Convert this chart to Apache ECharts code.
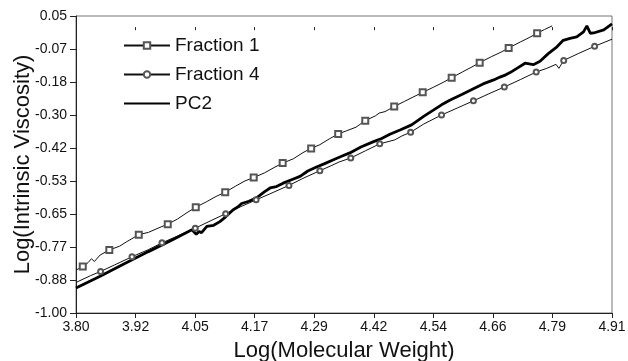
<!DOCTYPE html>
<html><head><meta charset="utf-8">
<script src="https://cdn.jsdelivr.net/npm/echarts@6/dist/echarts.min.js"></script>
<style>html,body{margin:0;padding:0;background:#fff}#c{width:628px;height:361px}</style>
</head><body><div id="c"></div>
<script>
// ---- data ----
const xTickLabels = ['3.80','3.92','4.05','4.17','4.29','4.42','4.54','4.66','4.79','4.91'];
const yTickLabels = ['-1.00','-0.88','-0.77','-0.65','-0.53','-0.42','-0.30','-0.18','-0.07','0.05'];
const xMin = 3.80, xMax = 4.91, yMin = -1.00, yMax = 0.05;

const f1X = [3.800,3.814,3.825,3.832,3.838,3.850,3.869,3.890,3.905,3.930,3.950,3.970,3.990,4.010,4.030,4.048,4.070,4.090,4.109,4.130,4.150,4.168,4.190,4.210,4.228,4.250,4.270,4.287,4.305,4.325,4.343,4.360,4.380,4.399,4.420,4.428,4.440,4.459,4.480,4.500,4.518,4.540,4.560,4.578,4.600,4.620,4.636,4.660,4.680,4.696,4.720,4.740,4.755,4.770,4.786];
const f1Y = [-0.848,-0.836,-0.822,-0.808,-0.818,-0.795,-0.777,-0.764,-0.748,-0.723,-0.715,-0.700,-0.686,-0.668,-0.645,-0.626,-0.607,-0.588,-0.573,-0.552,-0.533,-0.521,-0.505,-0.486,-0.470,-0.455,-0.433,-0.418,-0.405,-0.384,-0.367,-0.356,-0.343,-0.320,-0.303,-0.293,-0.288,-0.270,-0.252,-0.235,-0.220,-0.202,-0.185,-0.168,-0.148,-0.130,-0.115,-0.094,-0.078,-0.063,-0.042,-0.025,-0.011,0.002,0.015];
const f1MarkerX = [3.814,3.869,3.930,3.990,4.048,4.109,4.168,4.228,4.287,4.343,4.399,4.459,4.518,4.578,4.636,4.696,4.755];

const f4X = [3.800,3.830,3.851,3.880,3.916,3.950,3.978,4.010,4.047,4.080,4.110,4.140,4.173,4.200,4.241,4.270,4.305,4.330,4.345,4.369,4.400,4.429,4.460,4.475,4.493,4.520,4.557,4.590,4.623,4.655,4.687,4.720,4.753,4.775,4.794,4.800,4.810,4.840,4.874,4.910];
const f4Y = [-0.892,-0.868,-0.853,-0.830,-0.801,-0.776,-0.752,-0.728,-0.700,-0.673,-0.649,-0.625,-0.600,-0.580,-0.549,-0.524,-0.497,-0.478,-0.466,-0.452,-0.426,-0.402,-0.388,-0.374,-0.361,-0.332,-0.300,-0.275,-0.250,-0.225,-0.201,-0.175,-0.148,-0.135,-0.121,-0.135,-0.107,-0.083,-0.057,-0.032];
const f4MarkerX = [3.851,3.916,3.978,4.047,4.110,4.173,4.241,4.305,4.369,4.429,4.493,4.557,4.623,4.687,4.753,4.810,4.874];

const pcX = [3.800,3.850,3.900,3.950,4.000,4.040,4.049,4.055,4.060,4.071,4.085,4.098,4.110,4.125,4.135,4.143,4.158,4.174,4.190,4.202,4.215,4.229,4.245,4.264,4.280,4.298,4.315,4.332,4.350,4.367,4.390,4.415,4.433,4.450,4.471,4.495,4.520,4.540,4.557,4.574,4.600,4.623,4.643,4.665,4.678,4.690,4.699,4.713,4.730,4.747,4.761,4.778,4.796,4.809,4.823,4.837,4.851,4.858,4.865,4.872,4.893,4.910];
const pcY = [-0.912,-0.870,-0.826,-0.783,-0.741,-0.706,-0.722,-0.712,-0.716,-0.694,-0.690,-0.677,-0.660,-0.636,-0.625,-0.613,-0.605,-0.593,-0.572,-0.558,-0.553,-0.541,-0.530,-0.517,-0.498,-0.484,-0.472,-0.459,-0.446,-0.434,-0.413,-0.395,-0.383,-0.368,-0.353,-0.335,-0.305,-0.283,-0.264,-0.248,-0.227,-0.207,-0.190,-0.176,-0.166,-0.158,-0.150,-0.135,-0.117,-0.122,-0.110,-0.083,-0.059,-0.036,-0.029,-0.024,-0.006,0.015,-0.011,-0.010,0.001,0.022];

// ---- build ----
function build(xs, ys, markers) {
  return xs.map((x, i) => {
    const isM = markers && markers.some(m => Math.abs(m - x) < 1e-9);
    return isM ? { value: [x, ys[i]] } : { value: [x, ys[i]], symbol: 'none' };
  });
}
const font = 'Liberation Sans, Arial, Helvetica, sans-serif';
const chart = echarts.init(document.getElementById('c'), null, { renderer: 'canvas' });
const xInt = (xMax - xMin) / (xTickLabels.length - 1);
const yInt = (yMax - yMin) / (yTickLabels.length - 1);
chart.setOption({
  animation: false,
  backgroundColor: '#fff',
  grid: { left: 76, right: 16, top: 16, bottom: 48, show: true, borderColor: '#777', borderWidth: 1,
          containLabel: false, outerBoundsMode: 'none' },
  legend: {
    orient: 'vertical', left: 118, top: 31, itemWidth: 46, itemHeight: 8, itemGap: 10,
    textStyle: { fontFamily: font, fontSize: 19, color: '#111' },
    data: [
      { name: 'Fraction 1' },
      { name: 'Fraction 4' },
      { name: 'PC2', itemStyle: { opacity: 0 } }
    ]
  },
  xAxis: [{
    type: 'value', min: xMin, max: xMax, interval: xInt,
    name: 'Log(Molecular Weight)', nameLocation: 'middle', nameGap: 27, nameMoveOverlap: false,
    nameTextStyle: { fontFamily: font, fontSize: 22, color: '#111' },
    axisLine: { onZero: false, lineStyle: { color: '#222', width: 1 } },
    axisTick: { length: 5, lineStyle: { color: '#222' } },
    axisLabel: { margin: 7, fontFamily: font, fontSize: 14, color: '#111', formatter: (v, i) => xTickLabels[i] },
    splitLine: { show: false }
  }, {
    type: 'value', min: xMin, max: xMax, interval: xInt, position: 'bottom',
    axisLine: { show: false }, axisLabel: { show: false }, splitLine: { show: false },
    axisTick: { inside: true, length: 3, lineStyle: { color: '#222' } }
  }],
  yAxis: {
    type: 'value', min: yMin, max: yMax, interval: yInt,
    name: 'Log(Intrinsic Viscosity)', nameLocation: 'middle', nameGap: 42, nameMoveOverlap: false,
    nameTextStyle: { fontFamily: font, fontSize: 22, color: '#111' },
    axisLine: { show: true, onZero: false, lineStyle: { color: '#222', width: 1 } },
    axisTick: { show: true, length: 6, lineStyle: { color: '#222' } },
    axisLabel: { margin: 9, fontFamily: font, fontSize: 14, color: '#111', formatter: (v, i) => yTickLabels[i] },
    splitLine: { show: false }
  },
  series: [
    { name: 'Fraction 1', type: 'line', data: build(f1X, f1Y, f1MarkerX), symbol: 'emptyRect', symbolSize: 6,
      showAllSymbol: true, lineStyle: { color: '#111', width: 1 }, itemStyle: { color: '#555', borderWidth: 1 } },
    { name: 'Fraction 4', type: 'line', data: build(f4X, f4Y, f4MarkerX), symbol: 'emptyCircle', symbolSize: 5,
      showAllSymbol: true, lineStyle: { color: '#111', width: 1 }, itemStyle: { color: '#555', borderWidth: 1 } },
    { name: 'PC2', type: 'line', data: build(pcX, pcY, null), symbol: 'none',
      lineStyle: { color: '#000', width: 2.8 }, itemStyle: { color: '#000' } }
  ]
});
</script></body></html>
